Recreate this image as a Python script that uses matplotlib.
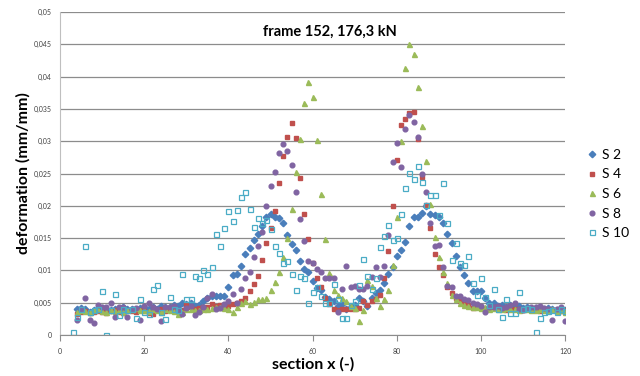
import numpy as np
import matplotlib
matplotlib.use("Agg")
import matplotlib.pyplot as plt
from matplotlib.ticker import FuncFormatter

plt.rcParams['font.family'] = ['Lato', 'DejaVu Sans']

# section positions
x_main = list(range(4, 121))
x_s10 = list(range(3, 121))

s2 = [.0041, .0042, .0040, .0036, .0038, .0040, .0042, .0040, .0038, .0041,
      .0040, .0043, .0040, .0041, .0039, .0042, .0044, .0040, .0043, .0041,
      .0045, .0044, .0043, .0046, .0045, .0050, .0048, .0050, .0045, .0046,
      .0052, .0058, .0060, .0060, .0061, .0061, .0074, .0093, .0094, .0107,
      .0125, .0134, .0147, .0157, .0168, .0182, .0187, .0183, .0181, .0173,
      .0155, .0141, .0131, .0114, .0102, .0097, .0083, .0073, .0070, .0059,
      .0055, .0052, .0045, .0048, .0040, .0043, .0046, .0057, .0052, .0045,
      .0057, .0065, .0070, .0081, .0094, .0106, .0122, .0132, .0144, .0168,
      .0183, .0183, .0189, .0200, .0188, .0186, .0182, .0173, .0156, .0143,
      .0122, .0105, .0093, .0080, .0068, .0068, .0068, .0057, .0050, .0049,
      .0045, .0046, .0043, .0047, .0044, .0045, .0042, .0043, .0041, .0042,
      .0040, .0041, .0042, .0040, .0039, .0041, .0038]

s4 = [.0033, .0036, .0037, .0034, .0036, .0037, .0035, .0034, .0037, .0039,
      .0036, .0034, .0038, .0037, .0035, .0039, .0037, .0034, .0033, .0038,
      .0040, .0037, .0041, .0038, .0035, .0039, .0047, .0044, .0040, .0042,
      .0044, .0043, .0048, .0045, .0046, .0047, .0045, .0048, .0050, .0052,
      .0058, .0068, .0079, .0092, .0116, .0143, .0165, .0192, .0236, .0277,
      .0307, .0328, .0305, .0243, .0188, .0148, .0112, .0088, .0075, .0057,
      .0048, .0040, .0038, .0040, .0041, .0040, .0041, .0042, .0052, .0046,
      .0053, .0055, .0062, .0089, .0130, .0199, .0271, .0325, .0335, .0343,
      .0346, .0303, .0244, .0201, .0165, .0125, .0106, .0093, .0074, .0065,
      .0057, .0052, .0048, .0046, .0042, .0044, .0043, .0041, .0042, .0044,
      .0043, .0041, .0038, .0042, .0040, .0041, .0039, .0040, .0041, .0039,
      .0037, .0040, .0038, .0039, .0038, .0037, .0038]

s6 = [.0036, .0038, .0037, .0035, .0038, .0040, .0037, .0036, .0038, .0037,
      .0039, .0036, .0038, .0040, .0042, .0038, .0039, .0037, .0041, .0039,
      .0036, .0040, .0038, .0037, .0033, .0036, .0040, .0041, .0038, .0039,
      .0040, .0041, .0042, .0043, .0044, .0042, .0041, .0036, .0043, .0049,
      .0052, .0048, .0051, .0056, .0055, .0058, .0070, .0082, .0098, .0121,
      .0150, .0195, .0252, .0303, .0359, .0392, .0368, .0302, .0219, .0149,
      .0096, .0070, .0062, .0057, .0053, .0045, .0042, .0021, .0039, .0085,
      .0076, .0057, .0045, .0055, .0069, .0108, .0182, .0300, .0413, .0450,
      .0435, .0384, .0324, .0269, .0203, .0152, .0121, .0097, .0080, .0062,
      .0055, .0050, .0047, .0045, .0043, .0044, .0042, .0043, .0041, .0042,
      .0040, .0041, .0042, .0040, .0041, .0039, .0040, .0041, .0039, .0038,
      .0040, .0039, .0038, .0040, .0037, .0038, .0036]

s8 = [.0023, .0040, .0058, .0023, .0018, .0046, .0043, .0043, .0050, .0028,
      .0043, .0044, .0028, .0040, .0042, .0024, .0045, .0050, .0044, .0040,
      .0022, .0044, .0043, .0045, .0038, .0033, .0042, .0045, .0031, .0035,
      .0044, .0057, .0064, .0041, .0042, .0048, .0052, .0063, .0049, .0072,
      .0089, .0098, .0121, .0138, .0160, .0199, .0230, .0253, .0281, .0296,
      .0285, .0263, .0221, .0180, .0145, .0114, .0112, .0102, .0098, .0088,
      .0089, .0088, .0036, .0071, .0107, .0075, .0076, .0072, .0072, .0076,
      .0090, .0105, .0090, .0107, .0155, .0268, .0298, .0260, .0319, .0340,
      .0329, .0307, .0249, .0222, .0174, .0138, .0140, .0105, .0076, .0075,
      .0060, .0060, .0055, .0054, .0050, .0048, .0045, .0036, .0044, .0043,
      .0045, .0042, .0044, .0046, .0049, .0040, .0038, .0042, .0044, .0043,
      .0045, .0042, .0041, .0024, .0040, .0043, .0022]

s10 = [.0004, .0028, .0040, .0138, .0036, .0038, .0040, .0068, .0000, .0038,
       .0063, .0031, .0040, .0038, .0041, .0026, .0056, .0036, .0032, .0071,
       .0077, .0035, .0025, .0059, .0040, .0038, .0095, .0055, .0056, .0092,
       .0089, .0100, .0095, .0105, .0156, .0138, .0166, .0192, .0177, .0193,
       .0213, .0221, .0195, .0167, .0181, .0173, .0178, .0164, .0138, .0127,
       .0111, .0114, .0094, .0070, .0091, .0088, .0050, .0066, .0074, .0061,
       .0050, .0050, .0079, .0055, .0027, .0027, .0046, .0052, .0077, .0117,
       .0092, .0071, .0089, .0136, .0153, .0171, .0147, .0150, .0187, .0228,
       .0251, .0242, .0262, .0237, .0201, .0217, .0217, .0186, .0236, .0173,
       .0116, .0143, .0111, .0108, .0123, .0081, .0062, .0088, .0059, .0046,
       .0072, .0040, .0028, .0055, .0034, .0034, .0066, .0040, .0042, .0041,
       .0004, .0026, .0036, .0037, .0038, .0035, .0040, .0037]

fig = plt.figure(figsize=(6.4, 3.76), dpi=100)
ax = fig.add_axes([0.094, 0.109, 0.789, 0.859])

ax.plot(x_main, s2, linestyle='none', marker='D', markersize=3.3, color='#4A7EBB', label='S 2')
ax.plot(x_main, s4, linestyle='none', marker='s', markersize=3.3, color='#C0504D', label='S 4')
ax.plot(x_main, s6, linestyle='none', marker='^', markersize=3.6, color='#9BBB59', label='S 6')
ax.plot(x_main, s8, linestyle='none', marker='o', markersize=3.4, color='#8064A2', label='S 8')
ax.plot(x_s10, s10, linestyle='none', marker='s', markersize=3.6, markerfacecolor='none',
        markeredgecolor='#4BACC6', markeredgewidth=0.9, label='S 10')

ax.set_xlim(0, 120)
ax.set_ylim(0, 0.05)
ax.set_xticks(range(0, 121, 20))
ax.set_yticks(np.arange(0, 0.0501, 0.005))
ax.yaxis.set_major_formatter(FuncFormatter(lambda v, p: '0' if v == 0 else ('%g' % round(v, 3)).replace('.', ',')))

ax.grid(axis='y', color='#8C8C8C', linewidth=0.9)
ax.set_axisbelow(True)
for s in ['top', 'right']:
    ax.spines[s].set_visible(False)
ax.spines['left'].set_color('#BFBFBF')
ax.spines['bottom'].set_color('#8C8C8C')
ax.tick_params(axis='y', length=0, labelsize=5, labelcolor='#404040', pad=6)
ax.tick_params(axis='x', length=4, direction='out', color='#8C8C8C', labelsize=5, labelcolor='#404040', pad=5)

ax.set_xlabel('section x (-)', fontsize=11.5, fontweight='bold', labelpad=2)
ax.set_ylabel('deformation (mm/mm)', fontsize=11.5, fontweight='bold', labelpad=2)
ax.text(0.535, 0.94, 'frame 152, 176,3 kN', transform=ax.transAxes, ha='center', va='center',
        fontsize=10.5, fontweight='bold')

fig.legend(loc='center left', bbox_to_anchor=(0.895, 0.484), frameon=False, fontsize=10,
           handletextpad=0.2, labelspacing=0.55, markerscale=1.0, handlelength=1.0)

fig.savefig('out.png', dpi=100)
